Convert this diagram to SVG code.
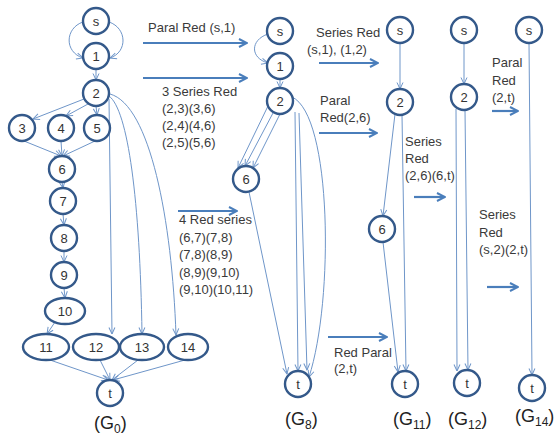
<svg xmlns="http://www.w3.org/2000/svg" width="555" height="439" viewBox="0 0 555 439">
<defs>
<style>
.n{fill:#fff;stroke:#34598a;stroke-width:2.4}
.e{fill:none;stroke:#6f96c9;stroke-width:1;marker-end:url(#ah)}
.b{fill:none;stroke:#4a7ebb;stroke-width:2.2;marker-end:url(#bh)}
.t{font-family:"Liberation Sans",Arial,sans-serif;font-size:13px;fill:#333;text-anchor:middle}
.l{font-family:"Liberation Sans",Arial,sans-serif;font-size:13px;fill:#3a3a3a}
.g{font-family:"Liberation Sans",Arial,sans-serif;font-size:18px;fill:#222}
.g tspan{font-size:12px}
</style>
<marker id="ah" viewBox="0 0 8 8" refX="7.5" refY="4" markerWidth="8" markerHeight="8" markerUnits="userSpaceOnUse" orient="auto"><path d="M1,1 L7.5,4 L1,7" fill="none" stroke="#6f96c9" stroke-width="1"/></marker>
<marker id="bh" viewBox="0 0 10 10" refX="9" refY="5" markerWidth="10" markerHeight="10" markerUnits="userSpaceOnUse" orient="auto"><path d="M1,1 L9,5 L1,9" fill="none" stroke="#4a7ebb" stroke-width="2"/></marker>
</defs>
<rect width="555" height="439" fill="#fff"/>

<g id="connectors">
<!-- G0 -->
<path class="e" d="M83,22 C65,28 64,52 83,58"/>
<path class="e" d="M109,22 C127,28 128,52 110,58"/>
<path class="e" d="M96,69 L96,80"/>
<path class="e" d="M84,99 L33,119"/>
<path class="e" d="M88,104 L66,116"/>
<path class="e" d="M96,106 L97,115"/>
<path class="e" d="M24,141 L61,156"/>
<path class="e" d="M61,141 L62,156"/>
<path class="e" d="M95,141 L63,156"/>
<path class="e" d="M62,182 L63,188"/>
<path class="e" d="M63,214 L64,225"/>
<path class="e" d="M64,251 L64,262"/>
<path class="e" d="M64,288 L65,298"/>
<path class="e" d="M55,322 L47,334"/>
<path class="e" d="M109,99 L112,334"/>
<path class="e" d="M109,96 C128,110 140,200 142,334"/>
<path class="e" d="M110,94 C150,105 172,220 176,335"/>
<path class="e" d="M50,360 L108,380"/>
<path class="e" d="M100,360 L110,380"/>
<path class="e" d="M138,360 L112,380"/>
<path class="e" d="M185,360 L113,380"/>
<!-- G8 -->
<path class="e" d="M268,34 C250,40 250,58 268,63"/>
<path class="e" d="M280,79 L280,88"/>
<path class="e" d="M268,106 L238,168"/>
<path class="e" d="M273,113 L245,166"/>
<path class="e" d="M280,114 L253,168"/>
<path class="e" d="M295,112 L298,371"/>
<path class="e" d="M299,113 L307,370"/>
<path class="e" d="M292,97 C332,115 334,300 309,377"/>
<path class="e" d="M249,192 L287,374"/>
<!-- G11 -->
<path class="e" d="M400,43 L400,89"/>
<path class="e" d="M395,114 L383,216"/>
<path class="e" d="M402,115 L406,371"/>
<path class="e" d="M383,242 L398,372"/>
<!-- G12 -->
<path class="e" d="M464,43 L464,84"/>
<path class="e" d="M456,109 L457,371"/>
<path class="e" d="M465,110 L468,370"/>
<!-- G14 -->
<path class="e" d="M529,43 L532,375"/>
<!-- transformation arrows -->
<path class="b" d="M143,43 L247,43"/>
<path class="b" d="M143,78 L247,78"/>
<path class="b" d="M319,63 L378,63"/>
<path class="b" d="M319,133 L377,133"/>
<path class="b" d="M178,211 L237,211"/>
<path class="b" d="M328,337 L387,337"/>
<path class="b" d="M414,197 L445,197"/>
<path class="b" d="M492,111 L518,111"/>
<path class="b" d="M487,287 L518,287"/>
</g>

<!-- G0 nodes -->
<g id="g0-s"><circle class="n" cx="96" cy="21" r="13"/><text class="t" x="96" y="26">s</text></g>
<g id="g0-1"><circle class="n" cx="96" cy="56" r="13"/><text class="t" x="96" y="61">1</text></g>
<g id="g0-2"><circle class="n" cx="96" cy="93" r="13"/><text class="t" x="96" y="98">2</text></g>
<g id="g0-3"><circle class="n" cx="22" cy="128" r="13"/><text class="t" x="22" y="133">3</text></g>
<g id="g0-4"><circle class="n" cx="61" cy="128" r="13"/><text class="t" x="61" y="133">4</text></g>
<g id="g0-5"><circle class="n" cx="97" cy="128" r="13"/><text class="t" x="97" y="133">5</text></g>
<g id="g0-6"><circle class="n" cx="62" cy="169" r="13"/><text class="t" x="62" y="174">6</text></g>
<g id="g0-7"><circle class="n" cx="63" cy="201" r="13"/><text class="t" x="63" y="206">7</text></g>
<g id="g0-8"><circle class="n" cx="64" cy="238" r="13"/><text class="t" x="64" y="243">8</text></g>
<g id="g0-9"><circle class="n" cx="64" cy="275" r="13"/><text class="t" x="64" y="280">9</text></g>
<g id="g0-10"><ellipse class="n" cx="65" cy="311" rx="20" ry="13"/><text class="t" x="65" y="316">10</text></g>
<g id="g0-11"><ellipse class="n" cx="46" cy="347" rx="23" ry="13"/><text class="t" x="46" y="352">11</text></g>
<g id="g0-12"><ellipse class="n" cx="96" cy="347" rx="23" ry="13"/><text class="t" x="96" y="352">12</text></g>
<g id="g0-13"><ellipse class="n" cx="142" cy="347" rx="22" ry="13"/><text class="t" x="142" y="352">13</text></g>
<g id="g0-14"><ellipse class="n" cx="188" cy="347" rx="20" ry="13"/><text class="t" x="188" y="352">14</text></g>
<g id="g0-t"><circle class="n" cx="110" cy="393" r="13"/><text class="t" x="110" y="398">t</text></g>

<!-- G8 nodes -->
<g id="g8-s"><circle class="n" cx="280" cy="31" r="13"/><text class="t" x="280" y="36">s</text></g>
<g id="g8-1"><circle class="n" cx="280" cy="66" r="13"/><text class="t" x="280" y="71">1</text></g>
<g id="g8-2"><circle class="n" cx="280" cy="101" r="13"/><text class="t" x="280" y="106">2</text></g>
<g id="g8-6"><circle class="n" cx="246" cy="179" r="13"/><text class="t" x="246" y="184">6</text></g>
<g id="g8-t"><circle class="n" cx="298" cy="384" r="13"/><text class="t" x="298" y="389">t</text></g>

<!-- G11 nodes -->
<g id="g11-s"><circle class="n" cx="400" cy="30" r="13"/><text class="t" x="400" y="35">s</text></g>
<g id="g11-2"><circle class="n" cx="400" cy="102" r="13"/><text class="t" x="400" y="107">2</text></g>
<g id="g11-6"><circle class="n" cx="382" cy="229" r="13"/><text class="t" x="382" y="234">6</text></g>
<g id="g11-t"><circle class="n" cx="405" cy="384" r="13"/><text class="t" x="405" y="389">t</text></g>

<!-- G12 nodes -->
<g id="g12-s"><circle class="n" cx="464" cy="30" r="13"/><text class="t" x="464" y="35">s</text></g>
<g id="g12-2"><circle class="n" cx="464" cy="97" r="13"/><text class="t" x="464" y="102">2</text></g>
<g id="g12-t"><circle class="n" cx="467" cy="383" r="13"/><text class="t" x="467" y="388">t</text></g>

<!-- G14 nodes -->
<g id="g14-s"><circle class="n" cx="529" cy="30" r="13"/><text class="t" x="529" y="35">s</text></g>
<g id="g14-t"><circle class="n" cx="532" cy="388" r="13"/><text class="t" x="532" y="393">t</text></g>

<!-- labels -->
<g id="labels">
<text class="l" x="148" y="32">Paral Red (s,1)</text>
<text class="l" x="162" y="96">3 Series Red</text>
<text class="l" x="162" y="113">(2,3)(3,6)</text>
<text class="l" x="162" y="130">(2,4)(4,6)</text>
<text class="l" x="162" y="147">(2,5)(5,6)</text>
<text class="l" x="316" y="37">Series Red</text>
<text class="l" x="307" y="54">(s,1), (1,2)</text>
<text class="l" x="320" y="105">Paral</text>
<text class="l" x="320" y="122">Red(2,6)</text>
<text class="l" x="179" y="224">4 Red series</text>
<text class="l" x="179" y="242">(6,7)(7,8)</text>
<text class="l" x="179" y="259">(7,8)(8,9)</text>
<text class="l" x="179" y="277">(8,9)(9,10)</text>
<text class="l" x="179" y="294">(9,10)(10,11)</text>
<text class="l" x="334" y="357">Red Paral</text>
<text class="l" x="334" y="373">(2,t)</text>
<text class="l" x="405" y="146">Series</text>
<text class="l" x="405" y="163">Red</text>
<text class="l" x="405" y="180">(2,6)(6,t)</text>
<text class="l" x="492" y="67">Paral</text>
<text class="l" x="492" y="85">Red</text>
<text class="l" x="492" y="102">(2,t)</text>
<text class="l" x="479" y="219">Series</text>
<text class="l" x="479" y="237">Red</text>
<text class="l" x="479" y="254">(s,2)(2,t)</text>
<text class="g" x="94" y="429">(G<tspan dy="4">0</tspan><tspan dy="-4" style="font-size:18px">)</tspan></text>
<text class="g" x="285" y="425">(G<tspan dy="4">8</tspan><tspan dy="-4" style="font-size:18px">)</tspan></text>
<text class="g" x="393" y="425">(G<tspan dy="4">11</tspan><tspan dy="-4" style="font-size:18px">)</tspan></text>
<text class="g" x="448" y="425">(G<tspan dy="4">12</tspan><tspan dy="-4" style="font-size:18px">)</tspan></text>
<text class="g" x="515" y="422">(G<tspan dy="4">14</tspan><tspan dy="-4" style="font-size:18px">)</tspan></text>
</g>
</svg>
